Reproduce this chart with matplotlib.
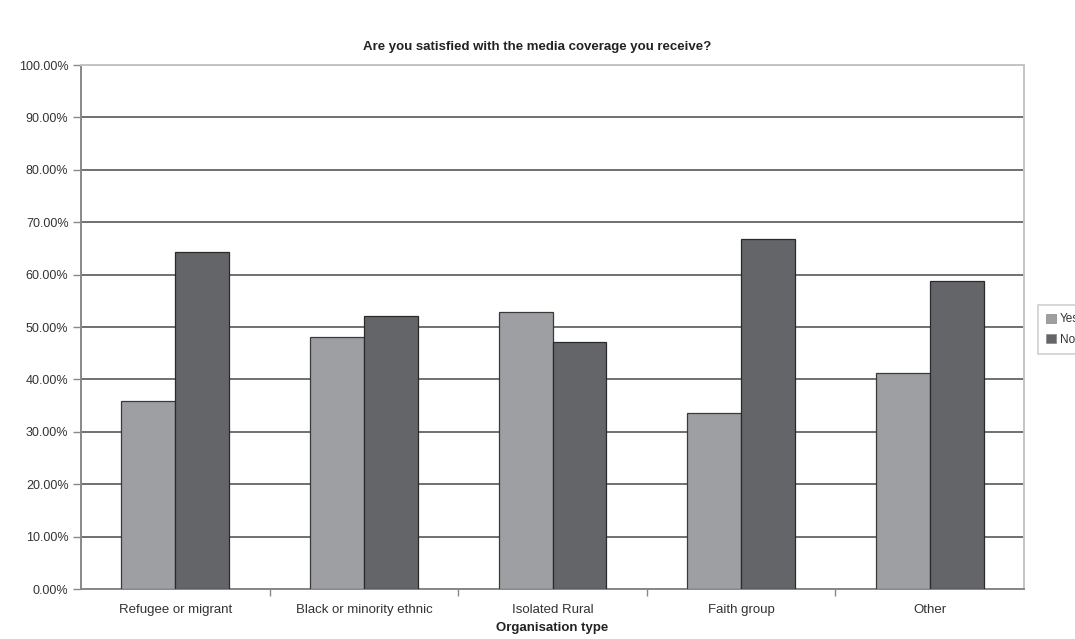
import matplotlib
matplotlib.use("Agg")
import matplotlib.pyplot as plt
import numpy as np
from matplotlib.ticker import FixedLocator, PercentFormatter

categories = ["Refugee or migrant", "Black or minority ethnic", "Isolated Rural",
              "Faith group", "Other"]
series_names = ["Yes", "No"]
yes_values = [35.9, 48.0, 52.9, 33.5, 41.3]
no_values = [64.4, 52.1, 47.2, 66.8, 58.8]
title = "Are you satisfied with the media coverage you receive?"
x_label = "Organisation type"

plt.rcParams["font.family"] = ["Liberation Sans", "DejaVu Sans"]

fig = plt.figure(figsize=(10.75, 6.39), dpi=100)
ax = fig.add_axes([81 / 1075, 50 / 639, 943 / 1075, 524 / 639])

x = np.arange(len(categories))
w = 1 / 3.5
colors = ["#9e9fa3", "#646569"]
bars_yes = ax.bar(x - w / 2, yes_values, w, color=colors[0], edgecolor="#3a3a3a",
                  linewidth=0.9, label=series_names[0], zorder=3)
bars_no = ax.bar(x + w / 2, no_values, w, color=colors[1], edgecolor="#2a2a2a",
                 linewidth=0.9, label=series_names[1], zorder=3)

ax.set_xlim(-0.5, len(categories) - 0.5)
ax.set_ylim(0, 100)
ax.yaxis.set_major_locator(FixedLocator(np.arange(0, 101, 10)))
ax.yaxis.set_major_formatter(PercentFormatter(decimals=2))
ax.yaxis.grid(True, color="#707070", linewidth=1.4, zorder=0)
ax.set_axisbelow(True)

ax.set_xticks(x)
ax.set_xticklabels(categories)
ax.set_xticks(np.arange(0.5, len(categories) - 0.5, 1), minor=True)
ax.tick_params(axis="x", which="major", length=0, pad=11, labelsize=9.5, colors="#333333")
ax.tick_params(axis="x", which="minor", length=5, width=1, color="#888888", direction="out")
ax.tick_params(axis="y", length=6, width=1, color="#888888", labelsize=9,
               labelcolor="#333333", pad=3)

for side in ["left", "bottom"]:
    ax.spines[side].set_color("#888888")
    ax.spines[side].set_linewidth(1.4)
for side in ["top", "right"]:
    ax.spines[side].set_color("#c4c4c4")
    ax.spines[side].set_linewidth(1.4)

ax.set_xlabel(x_label, fontsize=9.5, fontweight="bold", color="#222222", labelpad=4)
fig.text(0.5, 1 - 47 / 639, title, ha="center", va="center", fontsize=9.5,
         fontweight="bold", color="#222222")

leg = fig.legend(handles=[bars_yes, bars_no], labels=series_names,
                 loc="upper left", bbox_to_anchor=(1038 / 1075, 1 - 305 / 639),
                 fontsize=8.5, frameon=True, fancybox=False, handlelength=0.8,
                 handleheight=0.8, handletextpad=0.35, borderpad=0.7,
                 labelspacing=0.7, borderaxespad=0)
leg.get_frame().set_edgecolor("#c4c4c4")
leg.get_frame().set_linewidth(1.2)
for t in leg.get_texts():
    t.set_color("#333333")
for h in leg.legend_handles:
    h.set_linewidth(0.5)
    h.set_edgecolor("#888888")

fig.savefig("out.png", dpi=100)
